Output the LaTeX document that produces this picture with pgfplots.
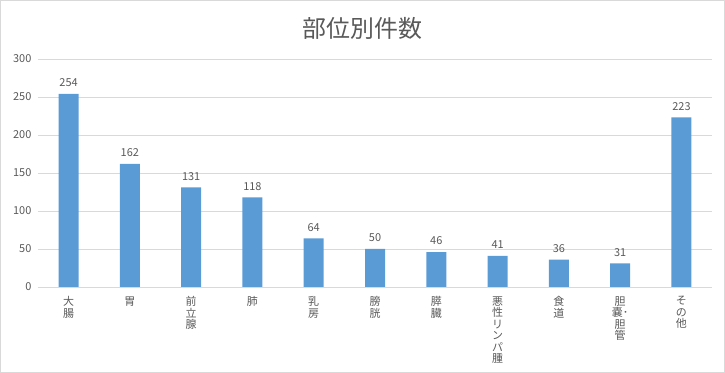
\documentclass[border=0pt]{standalone}
\usepackage{fontspec}
\setmainfont{Noto Sans CJK JP}
\usepackage{pgfplots}
\pgfplotsset{compat=1.18}
\definecolor{barblue}{HTML}{5B9BD5}
\definecolor{txt}{HTML}{595959}
\definecolor{gridc}{HTML}{D9D9D9}
\begin{document}
\begin{tikzpicture}
\draw[gridc, line width=0.8bp] (0.5bp,0.5bp) rectangle (724.5bp,372.5bp);
\node[text=txt, font=\fontsize{24}{28}\selectfont] at (362.5bp,344.5bp) {部位別件数};
\begin{axis}[
  at={(38bp,86bp)}, anchor=south west,
  scale only axis, width=674bp, height=228bp,
  xmin=-0.5, xmax=10.5, ymin=0, ymax=300,
  ytick={0,50,...,300},
  xtick={0,...,10},
  xticklabels={{大\\腸},{胃},{前\\立\\腺},{肺},{乳\\房},{膀\\胱},{膵\\臓},{悪\\性\\リ\\ン\\パ\\腫},{食\\道},{胆\\嚢･\\胆\\管},{そ\\の\\他}},
  major tick length=0pt,
  axis line style={draw=none},
  ymajorgrids, grid style={gridc, line width=0.8bp},
  /pgf/number format/assume math mode=true,
  ticklabel style={text=txt},
  yticklabel style={xshift=-3bp, font=\fontsize{11}{13}\selectfont},
  xticklabel style={align=center, anchor=north, yshift=-6bp, font=\fontsize{11}{11.5}\selectfont},
  ybar, bar width=20bp,
  nodes near coords,
  nodes near coords style={text=txt, font=\fontsize{11}{13}\selectfont, /pgf/number format/assume math mode=true, yshift=3.5bp},
]
\addplot[fill=barblue, draw=none] coordinates {
(0,254) (1,162) (2,131) (3,118) (4,64) (5,50) (6,46) (7,41) (8,36) (9,31) (10,223)
};
\end{axis}
\end{tikzpicture}
\end{document}
